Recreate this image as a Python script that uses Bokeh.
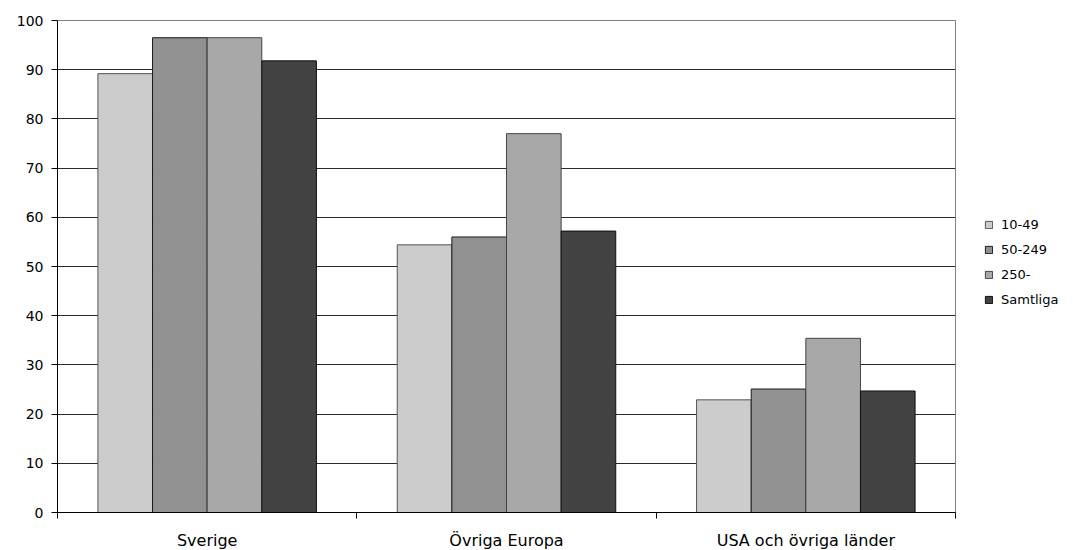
from bokeh.plotting import figure
from bokeh.models import Range1d, FixedTicker, Legend, LegendItem
from bokeh.embed import file_html
from bokeh.resources import INLINE

categories = ["Sverige", "Övriga Europa", "USA och övriga länder"]
series_names = ["10-49", "50-249", "250-", "Samtliga"]
v_10_49 = [89.2, 54.4, 22.9]
v_50_249 = [96.5, 56.0, 25.1]
v_250 = [96.5, 77.0, 35.4]
v_samtliga = [91.8, 57.2, 24.7]
y_ticks = [0, 10, 20, 30, 40, 50, 60, 70, 80, 90, 100]

series_values = [v_10_49, v_50_249, v_250, v_samtliga]
colors = ["#cccccc", "#919191", "#a8a8a8", "#424242"]
edge_colors = ["#555555", "#1a1a1a", "#444444", "#111111"]

FONT = "DejaVu Sans"

p = figure(frame_width=898, frame_height=492, output_backend="svg", toolbar_location=None,
           x_range=Range1d(0, len(categories)), y_range=Range1d(0, 100),
           min_border_left=57, min_border_right=118, min_border_top=20, min_border_bottom=36)
p.outline_line_color = "#808080"
p.background_fill_color = "white"

bar_w = 0.1825
offsets = [-1.5 * bar_w, -0.5 * bar_w, 0.5 * bar_w, 1.5 * bar_w]
renderers = []
for k, (name, vals) in enumerate(zip(series_names, series_values)):
    xs = [i + 0.5 + offsets[k] for i in range(len(categories))]
    r = p.vbar(x=xs, top=vals, width=bar_w, bottom=0,
               fill_color=colors[k], line_color=edge_colors[k], line_width=1)
    renderers.append(r)

# y axis
p.yaxis.ticker = FixedTicker(ticks=y_ticks)
p.yaxis.axis_line_color = "black"
p.yaxis.major_tick_line_color = "black"
p.yaxis.major_tick_out = 6
p.yaxis.major_tick_in = 0
p.yaxis.minor_tick_line_color = None
p.yaxis.major_label_text_font = FONT
p.yaxis.major_label_text_font_size = "14px"
p.yaxis.major_label_text_color = "black"
p.yaxis.major_label_standoff = 8

# x axis: labels centered, tick marks at category boundaries
centers = [i + 0.5 for i in range(len(categories))]
bounds = [float(i) for i in range(len(categories) + 1)]
p.xaxis.ticker = FixedTicker(ticks=centers, minor_ticks=bounds)
p.xaxis.major_label_overrides = {c: lab for c, lab in zip(centers, categories)}
p.xaxis.axis_line_color = "black"
p.xaxis.major_tick_line_color = None
p.xaxis.minor_tick_line_color = "black"
p.xaxis.minor_tick_out = 6
p.xaxis.minor_tick_in = 0
p.xaxis.major_label_text_font = FONT
p.xaxis.major_label_text_font_size = "16px"
p.xaxis.major_label_text_color = "black"
p.xaxis.major_label_standoff = 12

p.xgrid.grid_line_color = None
p.ygrid.ticker = FixedTicker(ticks=y_ticks)
p.ygrid.grid_line_color = "#2a2a2a"
p.ygrid.grid_line_width = 1

legend = Legend(items=[LegendItem(label=n, renderers=[r]) for n, r in zip(series_names, renderers)],
                location=(29, 205), glyph_width=9, glyph_height=9, label_height=14,
                spacing=10, label_standoff=8, padding=0, margin=0,
                border_line_color=None, background_fill_alpha=0,
                label_text_font=FONT, label_text_font_size="13px", label_text_color="black")
p.add_layout(legend, "right")

open("out.html", "w").write(file_html(p, INLINE))
